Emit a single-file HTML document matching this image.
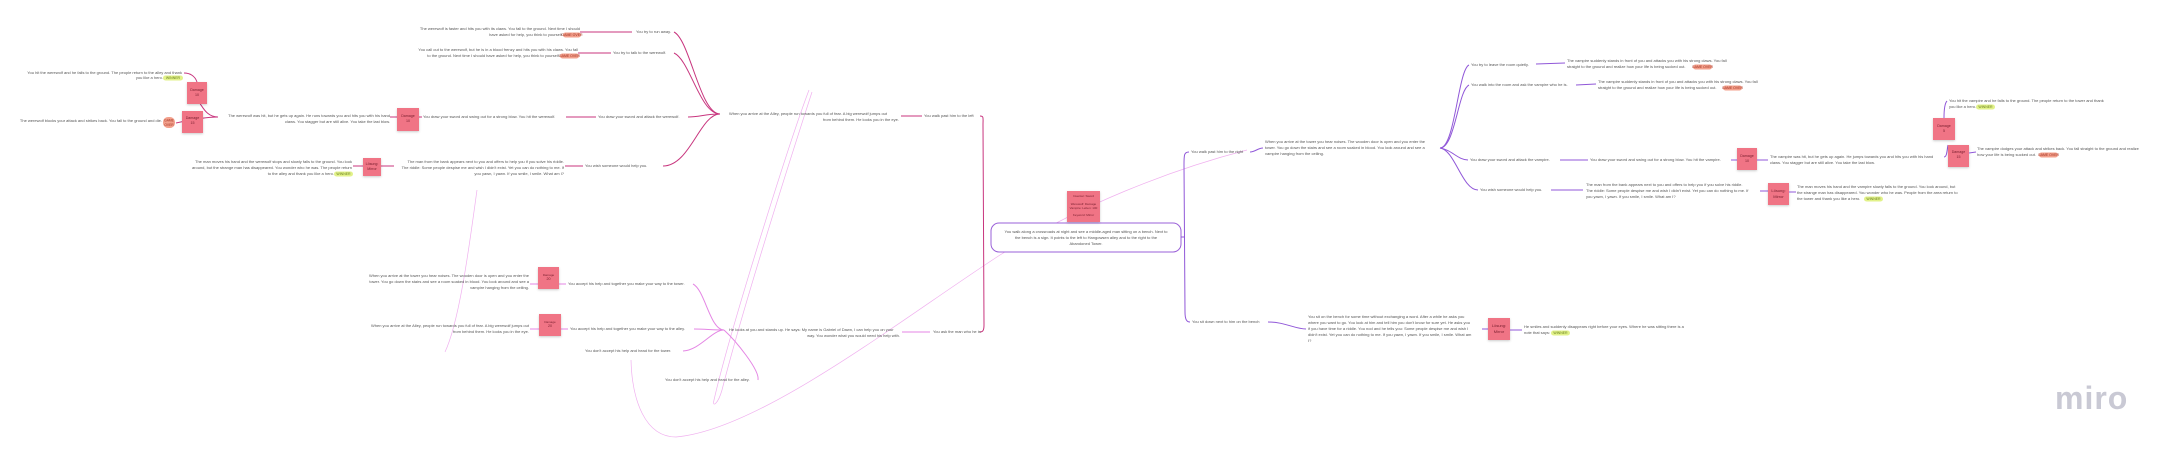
<!DOCTYPE html>
<html><head><meta charset="utf-8"><style>
html,body{margin:0;padding:0;background:#fff;width:2174px;height:459px;overflow:hidden}
svg{display:block}
text{font-family:"Liberation Sans",sans-serif;font-size:4px;fill:#555}
.st2{fill:#f07485;filter:drop-shadow(0 1px 1px rgba(0,0,0,.2))}
.sl{font-size:3.6px;fill:#7a2030;text-anchor:middle}
.lm{fill:none;stroke:#c8357e;stroke-width:1}
.ll{fill:none;stroke:#e486e4;stroke-width:1}
.lf{fill:none;stroke:#f0b0ef;stroke-width:.7}
.lp{fill:none;stroke:#9057d8;stroke-width:1}
.go{fill:#f3a08c}
.wi{fill:#e2f28a}
</style></head><body>
<svg width="2174" height="459" viewBox="0 0 2174 459" xmlns="http://www.w3.org/2000/svg">
<!-- faint long curves -->
<path class="lf" d="M809 90 C 790 140, 730 330, 714 400 C 712 408, 718 404, 722 390 C 745 300, 790 160, 812 92"/>
<path class="lf" d="M477 190 C 470 240, 460 320, 445 352"/>
<path class="lf" d="M631 360 C 632 400, 645 437, 676 437 C 760 430, 900 320, 1000 255 C 1080 205, 1170 170, 1247 150"/>

<!-- LEFT TREE -->
<path class="lm" d="M720 114 C 700 114, 690 40, 674 32"/>
<path class="lm" d="M720 114 C 700 114, 690 60, 674 53"/>
<path class="lm" d="M720 114 C 705 114, 700 117, 688 117"/>
<path class="lm" d="M720 114 C 700 114, 690 166, 663 166"/>
<line class="lm" x1="580" y1="32" x2="632" y2="32"/>
<line class="lm" x1="578" y1="53" x2="611" y2="53"/>
<line class="lm" x1="566" y1="117" x2="596" y2="117"/>
<line class="lm" x1="419" y1="117" x2="422" y2="117"/>
<line class="lm" x1="390" y1="117" x2="397" y2="117"/>
<line class="lm" x1="565" y1="166" x2="583" y2="166"/>
<line class="lm" x1="380" y1="166" x2="394" y2="166"/>
<line class="lm" x1="353" y1="166" x2="363" y2="166"/>
<path class="lm" d="M218 117 C 205 117, 202 104, 197 100"/>
<path class="lm" d="M197 82 C 195 76, 190 73, 184 73"/>
<path class="lm" d="M218 117 C 205 117, 185 121, 176 123"/>
<line class="lm" x1="901" y1="116" x2="922" y2="116"/>
<path class="lm" d="M980 116 C 984 116, 983 118, 983 125 L 984 325 C 984 330, 983 332, 980 332"/>

<!-- left texts -->
<text x="580" y="30" text-anchor="end">The werewolf is faster and hits you with its claws. You fall to the ground. Next time I should</text>
<text x="563" y="36" text-anchor="end">have asked for help, you think to yourself.</text>
<rect class="go" x="563" y="32.5" width="18" height="5" rx="2.5"/><text x="572" y="36" text-anchor="middle" style="font-size:3.5px;fill:#a03020">GAME OVER</text>
<text x="636" y="33">You try to run away.</text>
<text x="578" y="51" text-anchor="end">You call out to the werewolf, but he is in a blood frenzy and hits you with his claws. You fall</text>
<text x="560" y="57" text-anchor="end">to the ground. Next time I should have asked for help, you think to yourself.</text>
<rect class="go" x="560" y="53.5" width="19" height="5" rx="2.5"/><text x="569.5" y="57" text-anchor="middle" style="font-size:3.5px;fill:#a03020">GAME OVER</text>
<text x="613" y="54">You try to talk to the werewolf.</text>
<text x="729" y="115">When you arrive at the Alley, people run towards you full of fear. A big werewolf jumps out</text>
<text x="899" y="121" text-anchor="end">from behind them. He looks you in the eye.</text>
<text x="924" y="117">You walk past him to the left</text>
<text x="598" y="118">You draw your sword and attack the werewolf.</text>
<text x="423" y="118">You draw your sword and swing out for a strong blow. You hit the werewolf.</text>
<rect class="st2" x="397" y="108" width="22" height="23"/><text class="sl" x="408" y="117">Damage</text><text class="sl" x="408" y="122">10</text>
<text x="390" y="117" text-anchor="end">The werewolf was hit, but he gets up again. He runs towards you and hits you with his hand</text>
<text x="390" y="123" text-anchor="end">claws. You stagger but are still alive. You take the last blow.</text>
<rect class="st2" x="187" y="82" width="20" height="22"/><text class="sl" x="197" y="91">Damage</text><text class="sl" x="197" y="96">10</text>
<rect class="st2" x="182" y="111" width="21" height="22"/><text class="sl" x="192.5" y="119">Damage</text><text class="sl" x="192.5" y="124">15</text>
<text x="182" y="74" text-anchor="end">You hit the werewolf and he falls to the ground. The people return to the alley and thank</text>
<text x="163" y="79" text-anchor="end">you like a hero.</text>
<rect class="wi" x="163" y="75.5" width="20" height="5" rx="2.5"/><text x="173" y="79" text-anchor="middle" style="font-size:3.5px;fill:#6a8020">WINNER</text>
<text x="162" y="122" text-anchor="end">The werewolf blocks your attack and strikes back. You fall to the ground and die.</text>
<rect class="go" x="163" y="117" width="12" height="11" rx="5"/><text x="169" y="121.5" text-anchor="middle" style="font-size:3.3px;fill:#a03020">GAME</text><text x="169" y="126" text-anchor="middle" style="font-size:3.3px;fill:#a03020">OVER</text>
<text x="585" y="167">You wish someone would help you.</text>
<text x="564" y="163" text-anchor="end">The man from the bank appears next to you and offers to help you if you solve his riddle.</text>
<text x="564" y="169" text-anchor="end">The riddle: Some people despise me and wish I didn't exist. Yet you can do nothing to me. If</text>
<text x="564" y="175" text-anchor="end">you yawn, I yawn. If you smile, I smile. What am I?</text>
<rect class="st2" x="363" y="158" width="18" height="18"/><text class="sl" x="372" y="165">Lösung:</text><text class="sl" x="372" y="170">Mirror</text>
<text x="352" y="163" text-anchor="end">The man moves his hand and the werewolf stops and slowly falls to the ground. You look</text>
<text x="352" y="169" text-anchor="end">around, but the strange man has disappeared. You wonder who he was. The people return</text>
<text x="334" y="175" text-anchor="end">to the alley and thank you like a hero.</text>
<rect class="wi" x="334" y="171.5" width="19" height="5" rx="2.5"/><text x="343.5" y="175" text-anchor="middle" style="font-size:3.5px;fill:#6a8020">WINNER</text>

<!-- BOTTOM LEFT -->
<path class="ll" d="M724 330 C 710 330, 705 290, 693 284"/>
<path class="ll" d="M724 330 C 712 330, 705 329, 694 329"/>
<path class="ll" d="M724 330 C 712 330, 700 350, 683 351"/>
<path class="ll" d="M724 330 C 735 340, 760 370, 758 380"/>
<line class="ll" x1="559" y1="284" x2="566" y2="284"/>
<line class="ll" x1="530" y1="284" x2="538" y2="284"/>
<line class="ll" x1="561" y1="329" x2="568" y2="329"/>
<line class="ll" x1="530" y1="329" x2="539" y2="329"/>
<line class="ll" x1="902" y1="332" x2="930" y2="332"/>
<rect class="st2" x="538" y="267" width="21" height="22"/><text class="sl" x="548.5" y="276" style="font-size:3px">Damage</text><text class="sl" x="548.5" y="280">20</text>
<text x="529" y="277" text-anchor="end">When you arrive at the tower you hear noises. The wooden door is open and you enter the</text>
<text x="529" y="283" text-anchor="end">tower. You go down the stairs and see a room soaked in blood. You look around and see a</text>
<text x="529" y="289" text-anchor="end">vampire hanging from the ceiling.</text>
<text x="568" y="285">You accept his help and together you make your way to the tower.</text>
<rect class="st2" x="539" y="314" width="22" height="22"/><text class="sl" x="550" y="323" style="font-size:3px">Damage</text><text class="sl" x="550" y="327">20</text>
<text x="529" y="327" text-anchor="end">When you arrive at the Alley, people run towards you full of fear. A big werewolf jumps out</text>
<text x="529" y="333" text-anchor="end">from behind them. He looks you in the eye.</text>
<text x="570" y="330">You accept his help and together you make your way to the alley.</text>
<text x="585" y="352">You don't accept his help and head for the tower.</text>
<text x="665" y="381">You don't accept his help and head for the alley.</text>
<text x="729" y="331">He looks at you and stands up. He says: My name is Gabriel of Dawn, I can help you on your</text>
<text x="900" y="337" text-anchor="end">way. You wonder what you would need his help with.</text>
<text x="933" y="333">You ask the man who he is</text>

<!-- CENTER -->
<rect x="991" y="223" width="190" height="29" rx="8" fill="#fff" stroke="#9a60d8" stroke-width="1"/>
<text x="1086" y="233" text-anchor="middle">You walk along a crossroads at night and see a middle-aged man sitting on a bench. Next to</text>
<text x="1086" y="239" text-anchor="middle">the bench is a sign. It points to the left to Hangowsen alley and to the right to the</text>
<text x="1086" y="245" text-anchor="middle">Abandoned Tower.</text>
<rect class="st2" x="1067" y="191" width="33" height="31"/>
<text class="sl" x="1083.5" y="197" style="font-size:3px">Inventar: Sword</text>
<text class="sl" x="1083.5" y="205" style="font-size:3px">Werewolf: Damage</text>
<text class="sl" x="1083.5" y="209" style="font-size:3px">Vampire: Leben: 100</text>
<text class="sl" x="1083.5" y="216" style="font-size:3px">Keyword: Mirror</text>
<path class="lp" d="M1189 152 C 1184 152, 1184 155, 1184 165 L 1185 312 C 1185 320, 1187 322, 1190 322"/>
<path class="lp" d="M1181 237 L 1185 237"/>

<!-- RIGHT TREE -->
<text x="1191" y="153">You walk past him to the right</text>
<path class="lp" d="M1250 152 C 1255 152, 1258 148, 1263 148"/>
<text x="1265" y="143">When you arrive at the tower you hear noises. The wooden door is open and you enter the</text>
<text x="1265" y="149">tower. You go down the stairs and see a room soaked in blood. You look around and see a</text>
<text x="1265" y="155">vampire hanging from the ceiling.</text>
<path class="lp" d="M1440 148 C 1455 148, 1458 70, 1469 65"/>
<path class="lp" d="M1440 148 C 1455 148, 1458 90, 1469 85"/>
<path class="lp" d="M1440 148 C 1452 150, 1458 160, 1468 160"/>
<path class="lp" d="M1440 148 C 1455 150, 1462 190, 1478 190"/>
<text x="1471" y="66">You try to leave the room quietly.</text>
<line class="lp" x1="1536" y1="64" x2="1565" y2="63"/>
<text x="1567" y="62">The vampire suddenly stands in front of you and attacks you with his strong claws. You fall</text>
<text x="1567" y="68">straight to the ground and realize how your life is being sucked out.</text>
<rect class="go" x="1693" y="64.5" width="19" height="5" rx="2.5"/><text x="1702.5" y="68" text-anchor="middle" style="font-size:3.5px;fill:#a03020">GAME OVER</text>
<text x="1471" y="86">You walk into the room and ask the vampire who he is.</text>
<line class="lp" x1="1576" y1="85" x2="1596" y2="84"/>
<text x="1598" y="83">The vampire suddenly stands in front of you and attacks you with his strong claws. You fall</text>
<text x="1598" y="89">straight to the ground and realize how your life is being sucked out.</text>
<rect class="go" x="1723" y="85.5" width="19" height="5" rx="2.5"/><text x="1732.5" y="89" text-anchor="middle" style="font-size:3.5px;fill:#a03020">GAME OVER</text>
<text x="1470" y="161">You draw your sword and attack the vampire.</text>
<line class="lp" x1="1560" y1="160" x2="1588" y2="160"/>
<text x="1590" y="161">You draw your sword and swing out for a strong blow. You hit the vampire.</text>
<line class="lp" x1="1731" y1="160" x2="1737" y2="160"/>
<rect class="st2" x="1737" y="148" width="20" height="22"/><text class="sl" x="1747" y="157">Damage</text><text class="sl" x="1747" y="162">10</text>
<line class="lp" x1="1757" y1="160" x2="1768" y2="160"/>
<text x="1770" y="158">The vampire was hit, but he gets up again. He jumps towards you and hits you with his hand</text>
<text x="1770" y="164">claws. You stagger but are still alive. You take the last blow.</text>
<path class="lp" d="M1944 157 C 1947 157, 1947 150, 1948 145"/>
<rect class="st2" x="1933" y="118" width="22" height="22"/><text class="sl" x="1944" y="127">Damage</text><text class="sl" x="1944" y="132">5</text>
<rect class="st2" x="1948" y="145" width="21" height="22"/><text class="sl" x="1958.5" y="153">Damage</text><text class="sl" x="1958.5" y="158">15</text>
<path class="lp" d="M1944 118 C 1944 110, 1945 103, 1947 101"/>
<line class="lp" x1="1969" y1="153" x2="1976" y2="152"/>
<text x="1949" y="102">You hit the vampire and he falls to the ground. The people return to the tower and thank</text>
<text x="1949" y="108">you like a hero.</text>
<rect class="wi" x="1976" y="104.5" width="19" height="5" rx="2.5"/><text x="1985.5" y="108" text-anchor="middle" style="font-size:3.5px;fill:#6a8020">WINNER</text>
<text x="1977" y="150">The vampire dodges your attack and strikes back. You fall straight to the ground and realize</text>
<text x="1977" y="156">how your life is being sucked out.</text>
<rect class="go" x="2039" y="152.5" width="19" height="5" rx="2.5"/><text x="2048.5" y="156" text-anchor="middle" style="font-size:3.5px;fill:#a03020">GAME OVER</text>
<text x="1480" y="191">You wish someone would help you.</text>
<line class="lp" x1="1551" y1="190" x2="1583" y2="190"/>
<text x="1586" y="186">The man from the bank appears next to you and offers to help you if you solve his riddle.</text>
<text x="1586" y="192">The riddle: Some people despise me and wish I didn't exist. Yet you can do nothing to me. If</text>
<text x="1586" y="198">you yawn, I yawn. If you smile, I smile. What am I?</text>
<line class="lp" x1="1760" y1="191" x2="1768" y2="191"/>
<rect class="st2" x="1768" y="183" width="21" height="22"/><text class="sl" x="1778.5" y="192" style="font-size:4px">Lösung:</text><text class="sl" x="1778.5" y="198" style="font-size:4px">Mirror</text>
<line class="lp" x1="1789" y1="192" x2="1796" y2="192"/>
<text x="1797" y="188">The man moves his hand and the vampire slowly falls to the ground. You look around, but</text>
<text x="1797" y="194">the strange man has disappeared. You wonder who he was. People from the area return to</text>
<text x="1797" y="200">the tower and thank you like a hero.</text>
<rect class="wi" x="1864" y="196.5" width="19" height="5" rx="2.5"/><text x="1873.5" y="200" text-anchor="middle" style="font-size:3.5px;fill:#6a8020">WINNER</text>

<text x="1192" y="323">You sit down next to him on the bench</text>
<path class="lp" d="M1268 322 C 1285 322, 1295 329, 1306 329"/>
<text x="1308" y="318">You sit on the bench for some time without exchanging a word. After a while he asks you</text>
<text x="1308" y="324">where you want to go. You look at him and tell him you don't know for sure yet. He asks you</text>
<text x="1308" y="330">if you have time for a riddle. You nod and he tells you: Some people despise me and wish I</text>
<text x="1308" y="336">didn't exist. Yet you can do nothing to me. If you yawn, I yawn. If you smile, I smile. What am</text>
<text x="1308" y="342">I?</text>
<line class="lp" x1="1482" y1="329" x2="1488" y2="329"/>
<rect class="st2" x="1488" y="318" width="22" height="22"/><text class="sl" x="1499" y="327" style="font-size:4px">Lösung:</text><text class="sl" x="1499" y="333" style="font-size:4px">Mirror</text>
<line class="lp" x1="1510" y1="330" x2="1522" y2="330"/>
<text x="1524" y="328">He smiles and suddenly disappears right before your eyes. Where he was sitting there is a</text>
<text x="1524" y="334">note that says:</text>
<rect class="wi" x="1551" y="330.5" width="19" height="5" rx="2.5"/><text x="1560.5" y="334" text-anchor="middle" style="font-size:3.5px;fill:#6a8020">WINNER</text>

<text x="2055" y="409" style="font-size:32px;fill:#c9c9d4;font-weight:bold;letter-spacing:1px">miro</text>
</svg>
</body></html>
